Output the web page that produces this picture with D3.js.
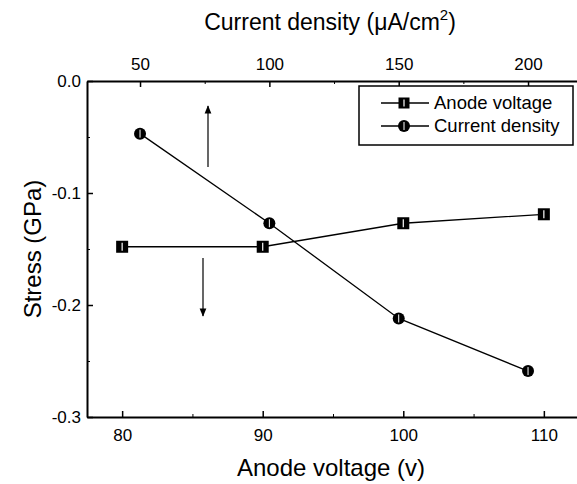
<!DOCTYPE html>
<html><head><meta charset="utf-8">
<script src="https://cdn.jsdelivr.net/npm/d3@7"></script>
<style>body{margin:0;background:#fff}svg{display:block}text{font-family:"Liberation Sans",Arial,sans-serif;fill:#000}</style>
</head><body><svg id="c" width="577" height="484"></svg>
<script>
const voltage = [80, 90, 100, 110];
const stressVoltage = [-0.148, -0.148, -0.127, -0.119];
const currentDensity = [50, 100, 150, 200];
const stressCurrent = [-0.047, -0.127, -0.212, -0.259];
const bottomTicks = [80, 90, 100, 110];
const topTicks = [50, 100, 150, 200];
const yTicks = [0.0, -0.1, -0.2, -0.3];

const svg = d3.select("#c");
const L = 87, R = 579, T = 81, B = 417;
const x = d3.scaleLinear().domain([77.5, 112.5]).range([L, R]);
const xt = d3.scaleLinear().domain([29.5, 219.7]).range([L, R]);
const y = d3.scaleLinear().domain([-0.3, 0]).range([B, T]);

function style(g){
  g.select(".domain").attr("stroke-width", 2);
  g.selectAll(".tick line").attr("stroke-width", 1.5);
  g.selectAll(".tick text").style("font-size", "17px");
}
// minor ticks
const gBm = svg.append("g").attr("transform", `translate(0,${B})`)
  .call(d3.axisBottom(x).tickValues([85, 95, 105]).tickSize(-3).tickFormat(""));
gBm.select(".domain").remove();
const gTm = svg.append("g").attr("transform", `translate(0,${T})`)
  .call(d3.axisTop(xt).tickValues([75, 125, 175]).tickSize(-3).tickFormat(""));
gTm.select(".domain").remove();
const gLm = svg.append("g").attr("transform", `translate(${L},0)`)
  .call(d3.axisLeft(y).tickValues([-0.05, -0.15, -0.25]).tickSize(-3).tickFormat(""));
gLm.select(".domain").remove();

const gB = svg.append("g").attr("transform", `translate(0,${B})`)
  .call(d3.axisBottom(x).tickValues(bottomTicks).tickSize(-6).tickPadding(12).tickSizeOuter(0));
style(gB);
const gT = svg.append("g").attr("transform", `translate(0,${T})`)
  .call(d3.axisTop(xt).tickValues(topTicks).tickSize(-6).tickPadding(11).tickSizeOuter(0));
style(gT);
const gL = svg.append("g").attr("transform", `translate(${L},0)`)
  .call(d3.axisLeft(y).tickValues(yTicks).tickSize(-6).tickPadding(6).tickSizeOuter(0));
style(gL);
gL.selectAll(".tick text").text(d => d === 0 ? "0.0" : d3.format(".1f")(d).replace("−","-"));

// axis titles
svg.append("text").attr("x", 331).attr("y", 476).attr("text-anchor", "middle")
  .style("font-size", "24px").text("Anode voltage (v)");
const tt = svg.append("text").attr("x", 330).attr("y", 30).attr("text-anchor", "middle").style("font-size", "23px");
tt.append("tspan").text("Current density (μA/cm");
tt.append("tspan").attr("dy", -10).style("font-size", "15px").text("2");
tt.append("tspan").attr("dy", 10).text(")");
svg.append("text").attr("transform", "translate(41,249) rotate(-90)").attr("text-anchor", "middle")
  .style("font-size", "24px").text("Stress (GPa)");

// lines
const lineV = d3.line().x(d => x(d[0])).y(d => y(d[1]));
const lineC = d3.line().x(d => xt(d[0])).y(d => y(d[1]));
const dV = voltage.map((v, i) => [v, stressVoltage[i]]);
const dC = currentDensity.map((v, i) => [v, stressCurrent[i]]);
svg.append("path").attr("d", lineV(dV)).attr("fill", "none").attr("stroke", "#000").attr("stroke-width", 1.3);
svg.append("path").attr("d", lineC(dC)).attr("fill", "none").attr("stroke", "#000").attr("stroke-width", 1.3);

function square(g, cx, cy, s){
  g.append("rect").attr("x", cx - s/2).attr("y", cy - s/2).attr("width", s).attr("height", s).attr("fill", "#000");
  g.append("line").attr("x1", cx).attr("x2", cx).attr("y1", cy - s/2 + 2).attr("y2", cy + s/2 - 2).attr("stroke", "#fff").attr("stroke-width", 1.2);
}
function circle(g, cx, cy, r){
  g.append("circle").attr("cx", cx).attr("cy", cy).attr("r", r).attr("fill", "#000");
  g.append("line").attr("x1", cx).attr("x2", cx).attr("y1", cy - r + 2).attr("y2", cy + r - 2).attr("stroke", "#fff").attr("stroke-width", 1);
}
const gm = svg.append("g");
dV.forEach(d => square(gm, x(d[0]), y(d[1]), 12));
dC.forEach(d => circle(gm, xt(d[0]), y(d[1]), 6));

// arrows
svg.append("defs").append("marker").attr("id", "ah").attr("viewBox", "0 0 10 10")
  .attr("refX", 9).attr("refY", 5).attr("markerWidth", 7).attr("markerHeight", 7).attr("orient", "auto")
  .append("path").attr("d", "M0,1 L10,5 L0,9 Z").attr("fill", "#000");
svg.append("line").attr("x1", 208).attr("x2", 208).attr("y1", 167).attr("y2", 106)
  .attr("stroke", "#000").attr("stroke-width", 1.2).attr("marker-end", "url(#ah)");
svg.append("line").attr("x1", 203).attr("x2", 203).attr("y1", 258).attr("y2", 316)
  .attr("stroke", "#000").attr("stroke-width", 1.2).attr("marker-end", "url(#ah)");

// legend
const lg = svg.append("g");
lg.append("rect").attr("x", 359).attr("y", 86).attr("width", 214).attr("height", 59)
  .attr("fill", "#fff").attr("stroke", "#000").attr("stroke-width", 1.5);
[[103, "Anode voltage", "s"], [126, "Current density", "c"]].forEach(([ly, label, t]) => {
  lg.append("line").attr("x1", 381).attr("x2", 429).attr("y1", ly).attr("y2", ly).attr("stroke", "#000").attr("stroke-width", 1.3);
  if (t === "s") square(lg, 404, ly, 11); else circle(lg, 404, ly, 6);
  lg.append("text").attr("x", 434).attr("y", ly + 6).style("font-size", "18.5px").text(label);
});
</script></body></html>
